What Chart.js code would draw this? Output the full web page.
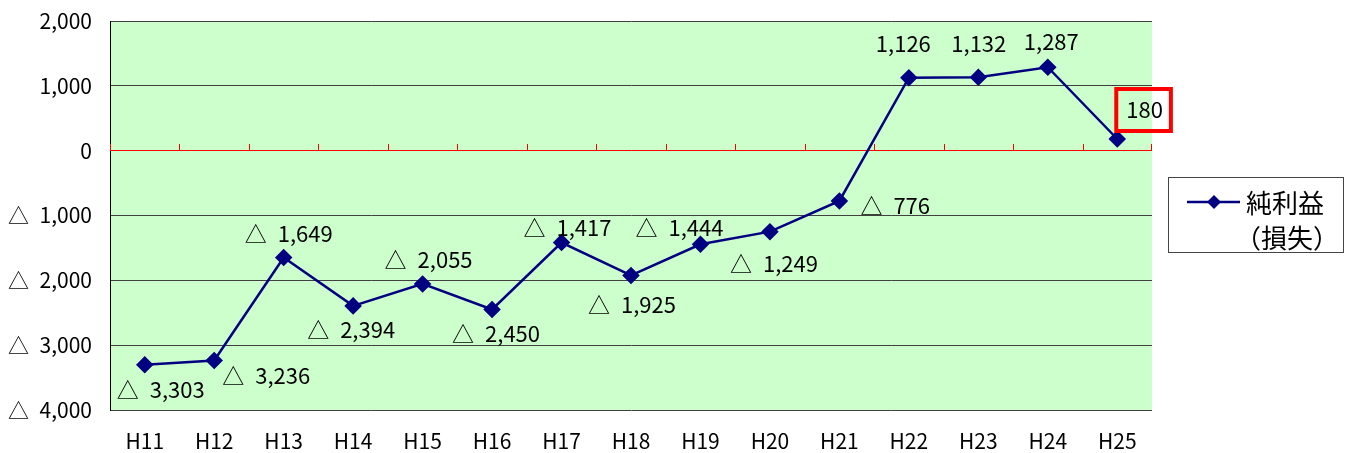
<!DOCTYPE html>
<html lang="ja">
<head>
<meta charset="UTF-8">
<title>純利益（損失）</title>
<script src="https://cdn.jsdelivr.net/npm/chart.js"></script>
<style>
    html, body { margin: 0; padding: 0; background: #fff; }
    #wrap { width: 1347px; height: 453px; }
</style>
</head>
<body>
<div id="wrap"><canvas id="chart" width="1347" height="453"></canvas></div>
<script>
    // data
    const years = ['H11', 'H12', 'H13', 'H14', 'H15', 'H16', 'H17', 'H18', 'H19', 'H20', 'H21', 'H22', 'H23', 'H24', 'H25'];
    const netIncome = [-3303, -3236, -1649, -2394, -2055, -2450, -1417, -1925, -1444, -1249, -776, 1126, 1132, 1287, 180];
    const yTicks = [2000, 1000, 0, -1000, -2000, -3000, -4000];

    // label placement (pixel offsets from each point, left edge of text)
    const labelDx = [-28, 8, -39, -46, -38, -40, -38, -43, -65, -40, 21, -33, -27, -24, 9];
    const labelDy = [25, 15, -24, 24, -24, 24, -15, 29, -17, 32, 5, -34, -34, -26, -29];

    const FONT = '"Noto Sans CJK JP", "Noto Sans", sans-serif';

    function fmt(v) {
        const s = Math.abs(v).toLocaleString('en-US');
        return v < 0 ? '△\u2002' + s : s;
    }

    const bgPlugin = {
        id: 'bg',
        beforeDraw(chart) {
            const { ctx, chartArea: a } = chart;
            ctx.save();
            ctx.fillStyle = '#CCFFCC';
            ctx.fillRect(a.left, a.top, a.right - a.left, a.bottom - a.top);
            ctx.restore();
        }
    };

    const extrasPlugin = {
        id: 'extras',
        afterDatasetsDraw(chart) {
            const { ctx, chartArea: a } = chart;
            const xs = chart.scales.x, ys = chart.scales.y;
            const y0 = Math.round(ys.getPixelForValue(0));
            ctx.save();
            // small red ticks on the zero line
            ctx.fillStyle = '#FF0000';
            const n = years.length;
            for (let i = 0; i <= n; i++) {
                let x;
                if (i === 0) x = a.left;
                else if (i === n) x = a.right - 1;
                else x = (xs.getPixelForValue(i - 1) + xs.getPixelForValue(i)) / 2;
                ctx.fillRect(Math.round(x), y0 - 7, 1, 7);
            }
            // data labels
            const meta = chart.getDatasetMeta(0);
            ctx.font = '22px ' + FONT;
            ctx.fillStyle = '#000';
            ctx.textBaseline = 'middle';
            ctx.textAlign = 'left';
            meta.data.forEach((pt, i) => {
                const tx = pt.x + labelDx[i];
                const ty = pt.y + labelDy[i];
                const txt = fmt(netIncome[i]);
                ctx.fillText(txt, tx, ty);
                if (i === n - 1) {
                    const w = ctx.measureText(txt).width;
                    ctx.strokeStyle = '#FF0000';
                    ctx.lineWidth = 4;
                    ctx.strokeRect(tx - 10, ty - 21, w + 18, 42);
                }
            });
            // legend
            const lx = 1168, ly = 177, lw = 175, lh = 75;
            ctx.strokeStyle = '#444';
            ctx.lineWidth = 1;
            ctx.strokeRect(lx + 0.5, ly + 0.5, lw, lh);
            ctx.strokeStyle = '#000080';
            ctx.lineWidth = 2.5;
            ctx.beginPath();
            ctx.moveTo(1187, 202);
            ctx.lineTo(1240, 202);
            ctx.stroke();
            ctx.fillStyle = '#000080';
            ctx.beginPath();
            ctx.moveTo(1214, 195);
            ctx.lineTo(1221, 202);
            ctx.lineTo(1214, 209);
            ctx.lineTo(1207, 202);
            ctx.closePath();
            ctx.fill();
            ctx.fillStyle = '#000';
            ctx.font = '26px ' + FONT;
            ctx.fillText('純利益', 1246, 203);
            ctx.fillText('（損失）', 1235, 238);
            ctx.restore();
        }
    };

    new Chart(document.getElementById('chart'), {
        type: 'line',
        data: {
            labels: years,
            datasets: [{
                label: '純利益（損失）',
                data: netIncome,
                borderColor: '#000080',
                backgroundColor: '#000080',
                borderWidth: 2.5,
                pointStyle: 'rectRot',
                pointRadius: 7,
                pointHoverRadius: 7,
                tension: 0,
                fill: false
            }]
        },
        options: {
            responsive: false,
            animation: false,
            layout: { padding: { top: 21, right: 195, left: 0, bottom: 0 } },
            plugins: {
                legend: { display: false },
                tooltip: { enabled: false }
            },
            scales: {
                x: {
                    offset: true,
                    grid: { display: false, drawTicks: false },
                    border: { display: false },
                    ticks: { color: '#000', font: { family: FONT, size: 21 }, padding: 18 },
                    afterFit(s) { s.height = 43; s.paddingLeft = 0; s.paddingRight = 0; }
                },
                y: {
                    min: -4000,
                    max: 2000,
                    afterBuildTicks(s) { s.ticks = yTicks.map(v => ({ value: v })); },
                    grid: {
                        drawTicks: false,
                        color: c => (c.tick && c.tick.value === 0) ? '#FF0000' : '#404040',
                        lineWidth: 1
                    },
                    border: { display: true, color: '#000', width: 1 },
                    ticks: {
                        color: '#000',
                        font: { family: FONT, size: 21 },
                        padding: 18,
                        callback: v => fmt(v)
                    },
                    afterFit(s) { s.width = 110; s.paddingTop = 0; s.paddingBottom = 0; }
                }
            }
        },
        plugins: [bgPlugin, extrasPlugin]
    });
</script>
</body>
</html>
